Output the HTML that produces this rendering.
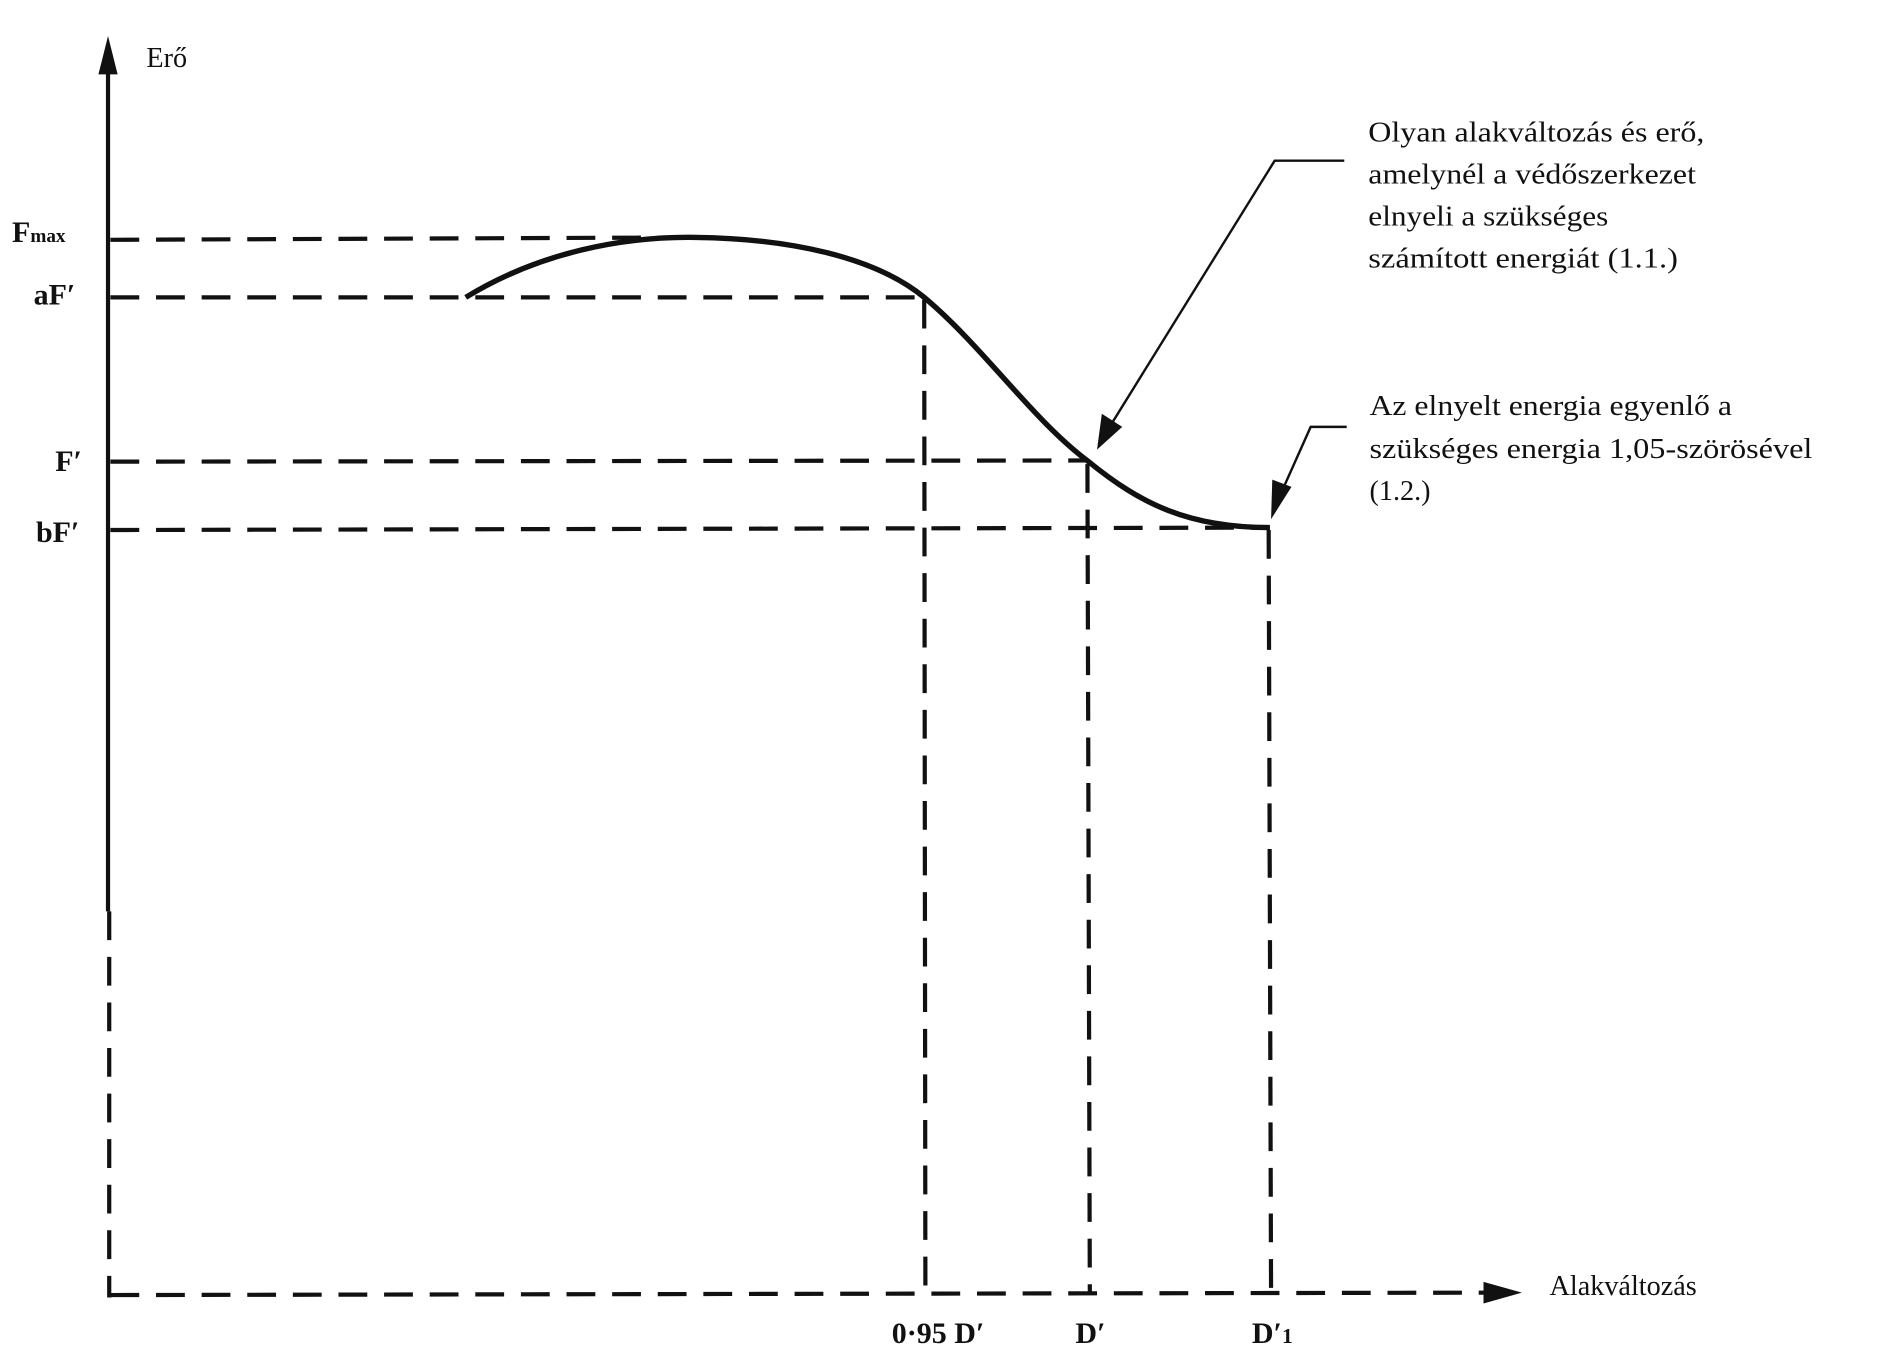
<!DOCTYPE html>
<html><head><meta charset="utf-8"><style>
html,body{margin:0;padding:0;background:#fff;}
svg{display:block;}
text{font-family:"Liberation Serif",serif;fill:#111;}
</style></head><body>
<svg width="1882" height="1355" viewBox="0 0 1568 1130" preserveAspectRatio="none" xmlns="http://www.w3.org/2000/svg">
<g stroke="#111" fill="none" stroke-width="3.5">
<line x1="90" y1="55" x2="90" y2="760"/>
<line x1="91" y1="760" x2="91" y2="1082" stroke-dasharray="24,14"/>
<line x1="92" y1="1080" x2="1240" y2="1078" stroke-dasharray="24,14"/>
<line x1="92" y1="200" x2="580" y2="198" stroke-dasharray="24,14"/>
<line x1="92" y1="248" x2="770" y2="248" stroke-dasharray="24,14"/>
<line x1="92" y1="385" x2="907" y2="384" stroke-dasharray="24,14"/>
<line x1="92" y1="442" x2="1058" y2="440" stroke-dasharray="24,14"/>
<line x1="770" y1="250" x2="771" y2="1080" stroke-dasharray="24,14"/>
<line x1="906" y1="387" x2="908" y2="1080" stroke-dasharray="24,14"/>
<line x1="1057" y1="442" x2="1059" y2="1080" stroke-dasharray="24,14"/>
<path d="M388,248 C450,210 520,197 580,198 C660,199 730,215 770,248 C820,290 860,350 907,385 C950,420 990,440 1058,440" stroke-width="4.5"/>
<path d="M1120,134 L1062,134 L922,360" stroke-width="2"/>
<path d="M1122,356 L1092,356 L1067,412" stroke-width="2"/>
</g>
<polygon points="90,30 82,62 98,62" fill="#111"/>
<polygon points="1268,1078 1236,1069 1236,1087" fill="#111"/>
<polygon points="914,375 918,345 935,356" fill="#111"/>
<polygon points="1059,433 1060,400 1076,406" fill="#111"/>
<g font-size="23.5">
<text x="122" y="56">Erő</text>
<text x="1291" y="1080">Alakváltozás</text>
<text x="1140" y="118" textLength="280" lengthAdjust="spacingAndGlyphs">Olyan alakváltozás és erő,</text>
<text x="1140" y="153" textLength="273" lengthAdjust="spacingAndGlyphs">amelynél a védőszerkezet</text>
<text x="1140" y="188" textLength="200" lengthAdjust="spacingAndGlyphs">elnyeli a szükséges</text>
<text x="1140" y="223" textLength="258" lengthAdjust="spacingAndGlyphs">számított energiát (1.1.)</text>
<text x="1141" y="346" textLength="302" lengthAdjust="spacingAndGlyphs">Az elnyelt energia egyenlő a</text>
<text x="1141" y="382" textLength="369" lengthAdjust="spacingAndGlyphs">szükséges energia 1,05-szörösével</text>
<text x="1141" y="417">(1.2.)</text>
</g>
<g font-size="25" font-weight="bold">
<text x="10" y="202">F<tspan font-size="16">max</tspan></text>
<text x="28" y="254">aF′</text>
<text x="46" y="393">F′</text>
<text x="30" y="452">bF′</text>
<text x="743" y="1120">0·95 D′</text>
<text x="896" y="1120">D′</text>
<text x="1043" y="1120">D′<tspan font-size="18">1</tspan></text>
</g>
</svg>
</body></html>
